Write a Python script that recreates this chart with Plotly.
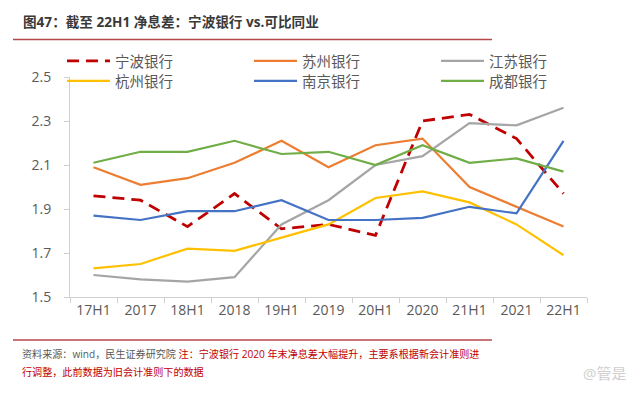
import plotly.graph_objects as go

categories = ["17H1", "2017", "18H1", "2018", "19H1", "2019", "20H1", "2020", "21H1", "2021", "22H1"]

ningbo = [1.96, 1.94, 1.82, 1.97, 1.81, 1.83, 1.78, 2.30, 2.33, 2.22, 1.97]
suzhou = [2.09, 2.01, 2.04, 2.11, 2.21, 2.09, 2.19, 2.22, 2.00, 1.91, 1.82]
jiangsu = [1.60, 1.58, 1.57, 1.59, 1.83, 1.94, 2.10, 2.14, 2.29, 2.28, 2.36]
hangzhou = [1.63, 1.65, 1.72, 1.71, 1.77, 1.83, 1.95, 1.98, 1.93, 1.83, 1.69]
nanjing = [1.87, 1.85, 1.89, 1.89, 1.94, 1.85, 1.85, 1.86, 1.91, 1.88, 2.21]
chengdu = [2.11, 2.16, 2.16, 2.21, 2.15, 2.16, 2.10, 2.19, 2.11, 2.13, 2.07]

series_names = ["宁波银行", "苏州银行", "江苏银行", "杭州银行", "南京银行", "成都银行"]
series_values = [ningbo, suzhou, jiangsu, hangzhou, nanjing, chengdu]
series_colors = ["#C00000", "#ED7D31", "#A5A5A5", "#FFC000", "#4472C4", "#70AD47"]
series_legend = ["legend", "legend", "legend", "legend2", "legend2", "legend2"]

title_text = "图47：截至 22H1 净息差：宁波银行 vs.可比同业"
source_text = "资料来源：wind，民生证券研究院"
note_line1 = "注：宁波银行 2020 年末净息差大幅提升，主要系根据新会计准则进"
note_line2 = "行调整，此前数据为旧会计准则下的数据"

FONT = "Open Sans, Noto Sans CJK SC, sans-serif"
# the page body adds an 8px margin, so the figure is drawn 8px smaller and all
# target window coordinates are shifted by that offset
OFF = 8
W, H = 640 - OFF, 396 - OFF
ML, MR, MT, MB = 10, 10, 40, 40
PW, PH = W - ML - MR, H - MT - MB
PLOT_L, PLOT_R, PLOT_T, PLOT_B = 70, 587, 77, 297


def px_x(x):
    return (x - OFF - ML) / PW


def px_y(y):
    return (H - MB - (y - OFF)) / PH


fig = go.Figure()
for name, vals, col, lg in zip(series_names, series_values, series_colors, series_legend):
    dash = "12px,7px" if name == "宁波银行" else "solid"
    width = 2.8 if name == "宁波银行" else 2.2
    fig.add_trace(go.Scatter(
        x=categories, y=vals, name=name, mode="lines", legend=lg,
        line=dict(color=col, width=width, dash=dash),
    ))


def legend_row(ytop):
    return dict(
        orientation="h", x=px_x(62), xanchor="left", y=px_y(ytop), yanchor="top",
        entrywidth=129, entrywidthmode="pixels", itemwidth=43,
        font=dict(size=14.5, color="#595959", family=FONT),
        bgcolor="rgba(0,0,0,0)", traceorder="normal", tracegroupgap=0,
    )


fig.update_layout(
    width=W, height=H,
    margin=dict(l=ML, r=MR, t=MT, b=MB, pad=0, autoexpand=False),
    paper_bgcolor="white", plot_bgcolor="white",
    font=dict(family=FONT, color="#595959"),
    showlegend=True,
    legend=legend_row(45),
    legend2=legend_row(65),
    xaxis=dict(
        type="category", range=[-0.5, 10.5], showgrid=False, zeroline=False,
        domain=[px_x(PLOT_L), px_x(PLOT_R)], automargin=False,
        showline=True, linecolor="#D0D0D0", linewidth=1,
        ticks="outside", tickson="boundaries", ticklen=5, tickcolor="#D0D0D0",
        tickfont=dict(size=14, color="#595959", family=FONT),
    ),
    yaxis=dict(
        range=[1.5, 2.5], dtick=0.2, tick0=1.5, tickformat=".1f",
        domain=[px_y(PLOT_B), px_y(PLOT_T)], automargin=False,
        showgrid=False, zeroline=False,
        showline=True, linecolor="#D0D0D0", linewidth=1,
        ticks="outside", ticklen=5, tickcolor="#D0D0D0", ticklabelstandoff=10,
        tickfont=dict(size=14, color="#595959", family=FONT),
    ),
)

# header / footer rules
for yy in (39.5, 340):
    fig.add_shape(type="line", xref="paper", yref="paper",
                  x0=px_x(13), x1=px_x(492), y0=px_y(yy), y1=px_y(yy),
                  line=dict(color="#B5474B", width=1.5))

fig.add_annotation(xref="paper", yref="paper", x=px_x(21), y=px_y(22),
                   xanchor="left", yanchor="middle", showarrow=False,
                   text="<b>" + title_text + "</b>",
                   font=dict(size=13.6, color="#3A3A3A", family=FONT))

fig.add_annotation(xref="paper", yref="paper", x=px_x(20), y=px_y(354),
                   xanchor="left", yanchor="middle", showarrow=False,
                   text=source_text + " <span style='color:#C00000'>" + note_line1 + "</span>",
                   font=dict(size=10.1, color="#595959", family=FONT))
fig.add_annotation(xref="paper", yref="paper", x=px_x(20), y=px_y(372),
                   xanchor="left", yanchor="middle", showarrow=False,
                   text=note_line2,
                   font=dict(size=10.1, color="#C00000", family=FONT))
fig.add_annotation(xref="paper", yref="paper", x=px_x(628), y=px_y(373),
                   xanchor="right", yanchor="middle", showarrow=False,
                   text="@管是",
                   font=dict(size=15, color="#D0D0D0", family=FONT))

fig.write_html("out.html")
